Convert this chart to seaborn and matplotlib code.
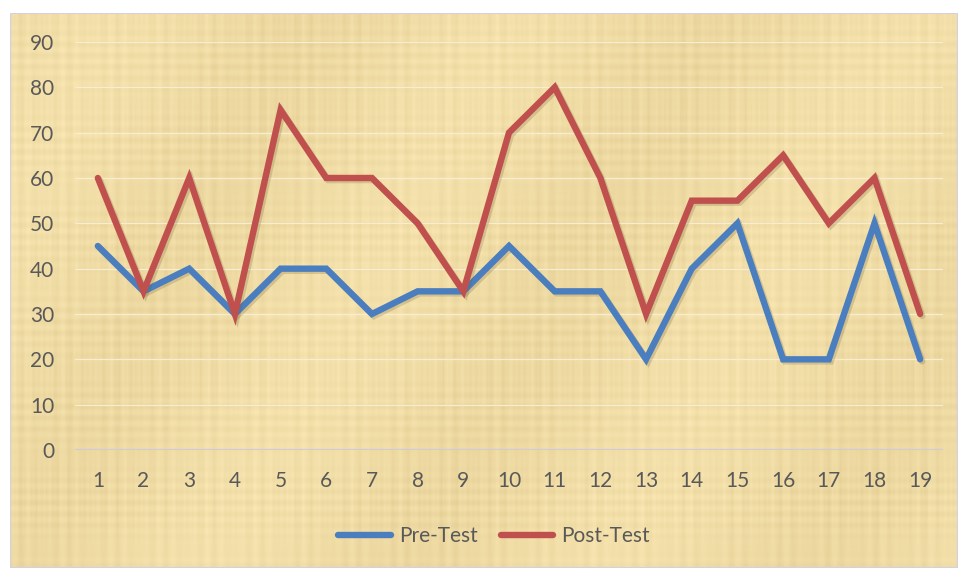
import numpy as np
import pandas as pd
import matplotlib
matplotlib.use("Agg")
import matplotlib.pyplot as plt
import matplotlib.patheffects as pe
from matplotlib.patches import Rectangle
import seaborn as sns

# Scores per student
students = list(range(1, 20))
pre_test = [45, 35, 40, 30, 40, 40, 30, 35, 35, 45, 35, 35, 20, 40, 50, 20, 20, 50, 20]
post_test = [60, 35, 60, 30, 75, 60, 60, 50, 35, 70, 80, 60, 30, 55, 55, 65, 50, 60, 30]
series_names = ["Pre-Test", "Post-Test"]
y_ticks = list(range(0, 100, 10))

df = pd.DataFrame({
    "Student": students * 2,
    "Score": pre_test + post_test,
    "Series": [series_names[0]] * len(students) + [series_names[1]] * len(students),
})

sns.set_theme(style="white")
plt.rcParams["font.family"] = ["Lato", "DejaVu Sans"]

W, H = 958, 568
fig = plt.figure(figsize=(W / 100, H / 100), dpi=100, facecolor="white")

# Parchment panel behind the chart
panel = fig.add_axes([10 / W, 0, 1 - 10 / W, 1 - 13 / H])
panel.set_axis_off()
ny, nx = 280, 480
yy, xx = np.mgrid[0:ny, 0:nx]
base = np.array([240, 220, 165]) / 255.0
fib = (0.016 * np.sin(xx * 0.9) * np.sin(xx * 0.13 + 1.0)
       + 0.014 * np.sin(yy * 1.1 + 0.5) * np.sin(yy * 0.07)
       + 0.014 * np.sin(xx * 0.031 + yy * 0.017)
       + 0.010 * np.sin(xx * 2.3 + 0.3) * np.sin(yy * 0.05 + 2.0))
tex = np.clip(base[None, None, :] + fib[:, :, None] * np.array([1.0, 1.0, 1.3]), 0, 1)
panel.imshow(tex, aspect="auto", extent=[0, 1, 0, 1], interpolation="bilinear")
panel.set_xlim(0, 1)
panel.set_ylim(0, 1)
panel.add_patch(Rectangle((0, 0), 1, 1, fill=False, edgecolor="#D4D0E4",
                          linewidth=1.5, transform=panel.transAxes))

ax = fig.add_axes([75 / W, 1 - 450 / H, (943 - 75) / W, (450 - 42) / H])
ax.set_facecolor("none")

palette = {"Pre-Test": "#4A7EBF", "Post-Test": "#C0504D"}
lw = 4.6
sns.lineplot(data=df, x="Student", y="Score", hue="Series", palette=palette,
             linewidth=lw, ax=ax, legend=False, sort=False)
for line in ax.get_lines():
    line.set_solid_capstyle("round")
    line.set_solid_joinstyle("miter")
    line.set_path_effects([pe.SimpleLineShadow(offset=(1.5, -1.5), alpha=0.22, shadow_color="#6b5a30"),
                           pe.Normal()])

ax.set_xlim(0.5, 19.5)
ax.set_ylim(0, 90)
ax.set_xticks(students)
ax.set_yticks(y_ticks)
ax.tick_params(axis="both", length=0, labelsize=15, labelcolor="#595959")
ax.tick_params(axis="x", pad=15)
ax.tick_params(axis="y", pad=15)
ax.set_xlabel("")
ax.set_ylabel("")
for s in ax.spines.values():
    s.set_visible(False)
for t in y_ticks[1:]:
    ax.axhline(t, color="#F7EDD2", linewidth=0.9, zorder=0.5)
ax.axhline(0, color="#CFCBDC", linewidth=1.6, zorder=0.6)

handles = [plt.Line2D([], [], color=palette[n], linewidth=lw, solid_capstyle="round")
           for n in series_names]
fig.legend(handles, series_names, loc="center", bbox_to_anchor=(494 / W, 1 - 536 / H),
           ncol=2, frameon=False, fontsize=15, labelcolor="#595959",
           handlelength=2.5, handletextpad=0.4, columnspacing=1.1)

fig.savefig("out.png", dpi=100, facecolor="white")
